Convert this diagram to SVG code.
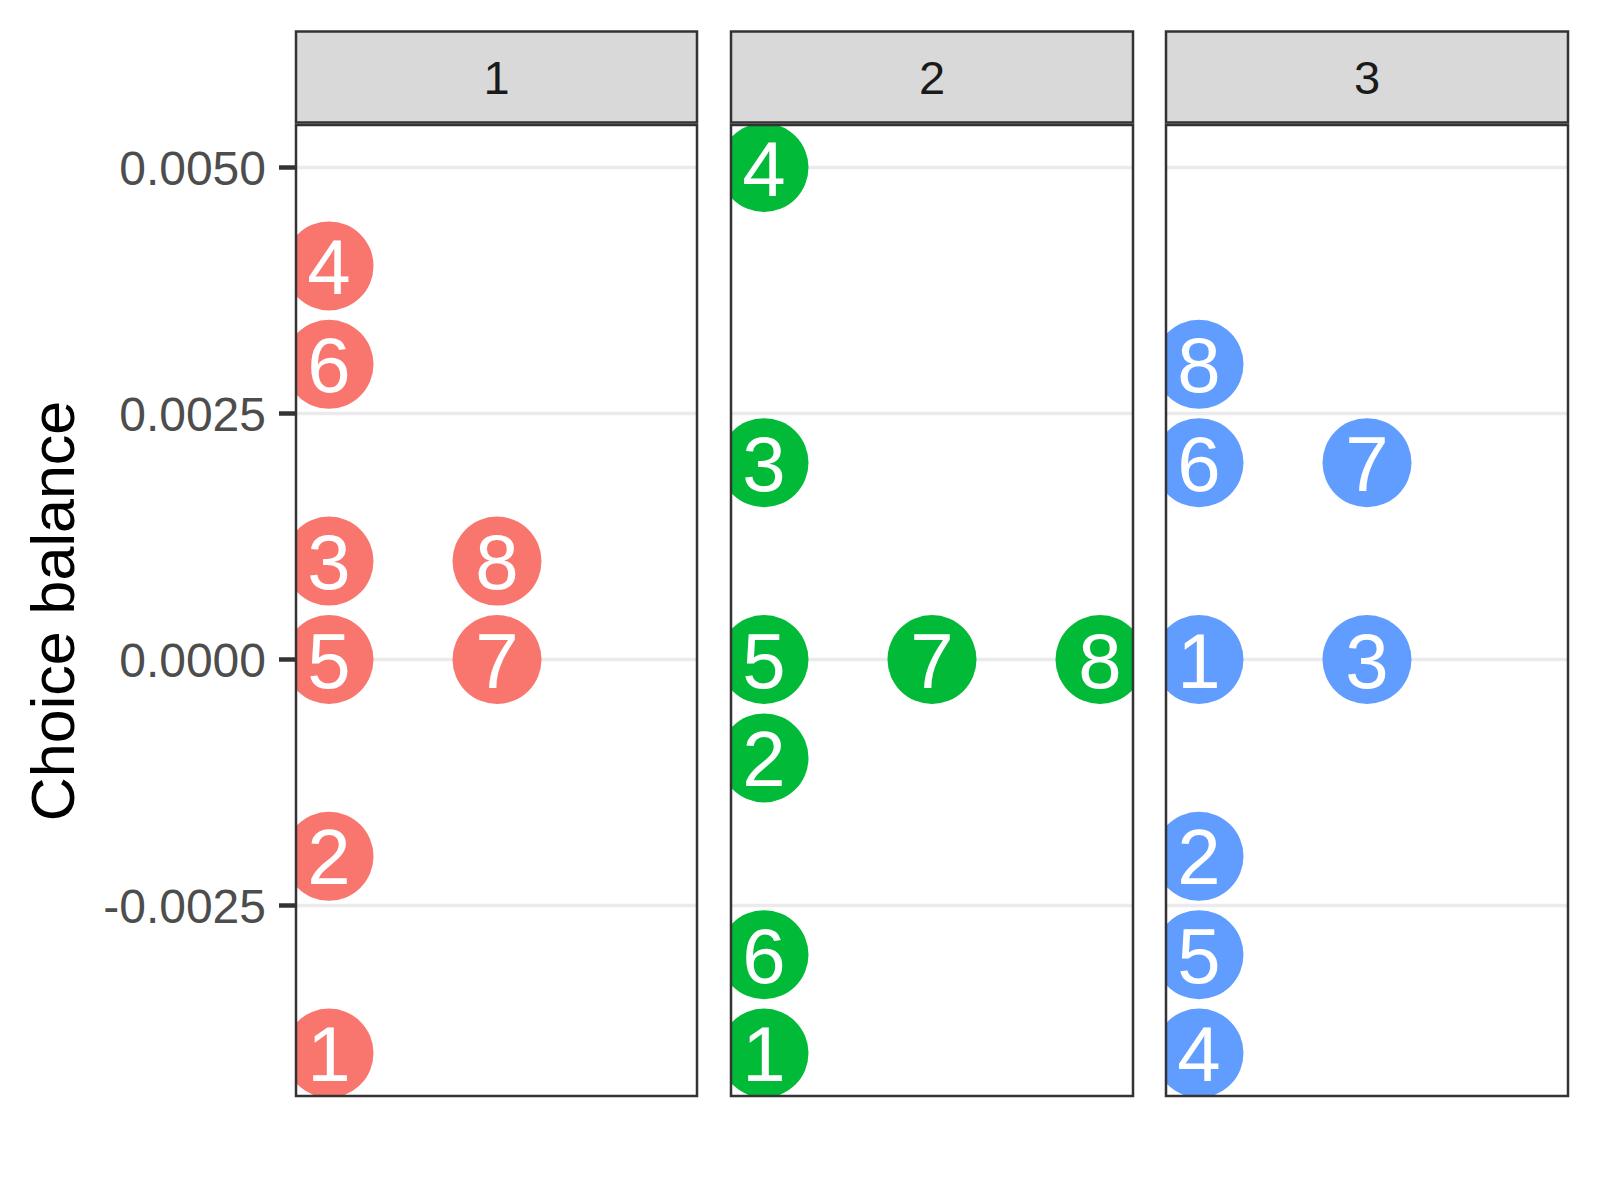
<svg xmlns="http://www.w3.org/2000/svg" width="1600" height="1200" viewBox="0 0 1600 1200">
<style>
.strip{fill:#D9D9D9;stroke:#333333;stroke-width:2.5}
.panel{fill:none;stroke:#333333;stroke-width:2.5}
.grid{stroke:#EBEBEB;stroke-width:3.5}
.tick{stroke:#333333;stroke-width:4.5}
.ylab{font-family:"Liberation Sans",Arial,sans-serif;font-size:48px;fill:#4D4D4D;text-anchor:end}
.stxt{font-family:"Liberation Sans",Arial,sans-serif;font-size:47px;fill:#1A1A1A;text-anchor:middle}
.title{font-family:"Liberation Sans",Arial,sans-serif;font-size:61px;fill:#000000;text-anchor:middle}
.pt text{font-family:"Liberation Sans",Arial,sans-serif;font-size:78px;fill:#FFFFFF;text-anchor:middle}
.c1 circle{fill:#F8766D}
.c2 circle{fill:#00BA38}
.c3 circle{fill:#619CFF}
</style>
<defs>
<clipPath id="clip1"><rect x="296" y="125" width="401" height="971"/></clipPath>
<clipPath id="clip2"><rect x="731" y="125" width="402" height="971"/></clipPath>
<clipPath id="clip3"><rect x="1166" y="125" width="402" height="971"/></clipPath>
</defs>
<rect width="1600" height="1200" fill="#FFFFFF"/>

<g id="y-axis">
<line class="tick" x1="279" y1="167.5" x2="296" y2="167.5"/>
<line class="tick" x1="279" y1="413.5" x2="296" y2="413.5"/>
<line class="tick" x1="279" y1="659.5" x2="296" y2="659.5"/>
<line class="tick" x1="279" y1="905.5" x2="296" y2="905.5"/>
<text class="ylab" x="266" y="184.5">0.0050</text>
<text class="ylab" x="266" y="430.5">0.0025</text>
<text class="ylab" x="266" y="676.5">0.0000</text>
<text class="ylab" x="266" y="922.5">-0.0025</text>
<text class="title" transform="translate(74,611) rotate(-90)">Choice balance</text>
</g>

<g id="panel-1">
<rect x="296" y="125" width="401" height="971" fill="#FFFFFF"/>
<g class="grids">
<line class="grid" x1="296" y1="167.5" x2="697" y2="167.5"/>
<line class="grid" x1="296" y1="413.5" x2="697" y2="413.5"/>
<line class="grid" x1="296" y1="659.5" x2="697" y2="659.5"/>
<line class="grid" x1="296" y1="905.5" x2="697" y2="905.5"/>
</g>
<g class="c1" clip-path="url(#clip1)">
<g class="pt"><circle cx="329" cy="265.9" r="44.5"/><text x="329" y="293.9">4</text></g>
<g class="pt"><circle cx="329" cy="364.3" r="44.5"/><text x="329" y="392.3">6</text></g>
<g class="pt"><circle cx="329" cy="561.1" r="44.5"/><text x="329" y="589.1">3</text></g>
<g class="pt"><circle cx="497" cy="561.1" r="44.5"/><text x="497" y="589.1">8</text></g>
<g class="pt"><circle cx="329" cy="659.5" r="44.5"/><text x="329" y="687.5">5</text></g>
<g class="pt"><circle cx="497" cy="659.5" r="44.5"/><text x="497" y="687.5">7</text></g>
<g class="pt"><circle cx="329" cy="856.3" r="44.5"/><text x="329" y="884.3">2</text></g>
<g class="pt"><circle cx="329" cy="1053.1" r="44.5"/><text x="329" y="1081.1">1</text></g>
</g>
<rect class="panel" x="296" y="125" width="401" height="971"/>
<rect class="strip" x="296" y="31.5" width="401" height="91"/>
<text class="stxt" x="496.5" y="94">1</text>
</g>

<g id="panel-2">
<rect x="731" y="125" width="402" height="971" fill="#FFFFFF"/>
<g class="grids">
<line class="grid" x1="731" y1="167.5" x2="1133" y2="167.5"/>
<line class="grid" x1="731" y1="413.5" x2="1133" y2="413.5"/>
<line class="grid" x1="731" y1="659.5" x2="1133" y2="659.5"/>
<line class="grid" x1="731" y1="905.5" x2="1133" y2="905.5"/>
</g>
<g class="c2" clip-path="url(#clip2)">
<g class="pt"><circle cx="764" cy="167.5" r="44.5"/><text x="764" y="195.5">4</text></g>
<g class="pt"><circle cx="764" cy="462.7" r="44.5"/><text x="764" y="490.7">3</text></g>
<g class="pt"><circle cx="764" cy="659.5" r="44.5"/><text x="764" y="687.5">5</text></g>
<g class="pt"><circle cx="932" cy="659.5" r="44.5"/><text x="932" y="687.5">7</text></g>
<g class="pt"><circle cx="1100" cy="659.5" r="44.5"/><text x="1100" y="687.5">8</text></g>
<g class="pt"><circle cx="764" cy="757.9" r="44.5"/><text x="764" y="785.9">2</text></g>
<g class="pt"><circle cx="764" cy="954.7" r="44.5"/><text x="764" y="982.7">6</text></g>
<g class="pt"><circle cx="764" cy="1053.1" r="44.5"/><text x="764" y="1081.1">1</text></g>
</g>
<rect class="panel" x="731" y="125" width="402" height="971"/>
<rect class="strip" x="731" y="31.5" width="402" height="91"/>
<text class="stxt" x="932" y="94">2</text>
</g>

<g id="panel-3">
<rect x="1166" y="125" width="402" height="971" fill="#FFFFFF"/>
<g class="grids">
<line class="grid" x1="1166" y1="167.5" x2="1568" y2="167.5"/>
<line class="grid" x1="1166" y1="413.5" x2="1568" y2="413.5"/>
<line class="grid" x1="1166" y1="659.5" x2="1568" y2="659.5"/>
<line class="grid" x1="1166" y1="905.5" x2="1568" y2="905.5"/>
</g>
<g class="c3" clip-path="url(#clip3)">
<g class="pt"><circle cx="1199" cy="364.3" r="44.5"/><text x="1199" y="392.3">8</text></g>
<g class="pt"><circle cx="1199" cy="462.7" r="44.5"/><text x="1199" y="490.7">6</text></g>
<g class="pt"><circle cx="1367" cy="462.7" r="44.5"/><text x="1367" y="490.7">7</text></g>
<g class="pt"><circle cx="1199" cy="659.5" r="44.5"/><text x="1199" y="687.5">1</text></g>
<g class="pt"><circle cx="1367" cy="659.5" r="44.5"/><text x="1367" y="687.5">3</text></g>
<g class="pt"><circle cx="1199" cy="856.3" r="44.5"/><text x="1199" y="884.3">2</text></g>
<g class="pt"><circle cx="1199" cy="954.7" r="44.5"/><text x="1199" y="982.7">5</text></g>
<g class="pt"><circle cx="1199" cy="1053.1" r="44.5"/><text x="1199" y="1081.1">4</text></g>
</g>
<rect class="panel" x="1166" y="125" width="402" height="971"/>
<rect class="strip" x="1166" y="31.5" width="402" height="91"/>
<text class="stxt" x="1367" y="94">3</text>
</g>
</svg>
